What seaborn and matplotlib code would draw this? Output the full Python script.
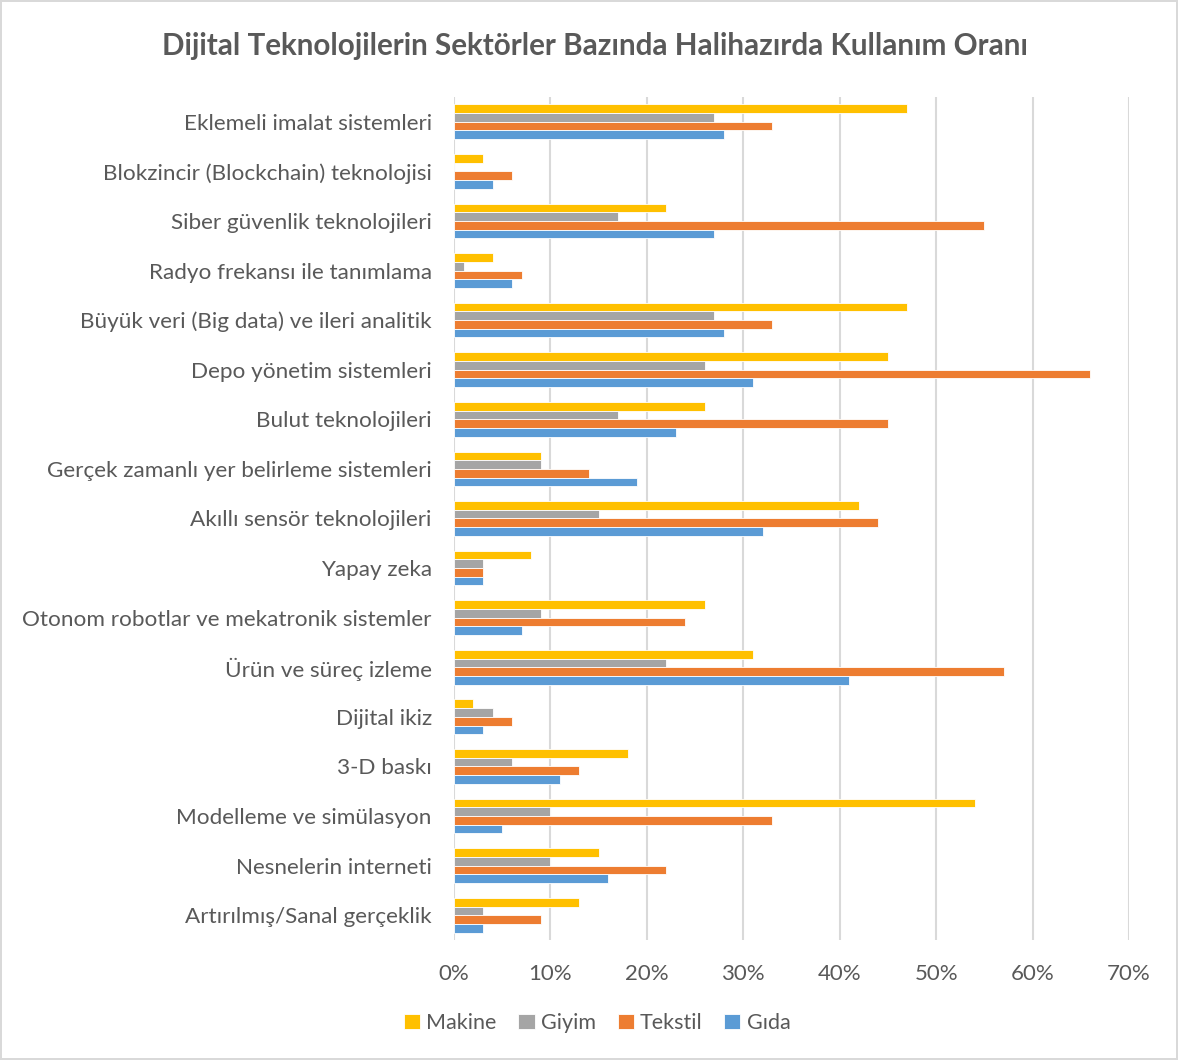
import matplotlib
matplotlib.use("Agg")
import matplotlib.pyplot as plt
import seaborn as sns
import pandas as pd
from matplotlib.ticker import FuncFormatter

categories = [
    "Eklemeli imalat sistemleri",
    "Blokzincir (Blockchain) teknolojisi",
    "Siber güvenlik teknolojileri",
    "Radyo frekansı ile tanımlama",
    "Büyük veri (Big data) ve ileri analitik",
    "Depo yönetim sistemleri",
    "Bulut teknolojileri",
    "Gerçek zamanlı yer belirleme sistemleri",
    "Akıllı sensör teknolojileri",
    "Yapay zeka",
    "Otonom robotlar ve mekatronik sistemler",
    "Ürün ve süreç izleme",
    "Dijital ikiz",
    "3-D baskı",
    "Modelleme ve simülasyon",
    "Nesnelerin interneti",
    "Artırılmış/Sanal gerçeklik",
]

makine = [47, 3, 22, 4, 47, 45, 26, 9, 42, 8, 26, 31, 2, 18, 54, 15, 13]
giyim = [27, 0, 17, 1, 27, 26, 17, 9, 15, 3, 9, 22, 4, 6, 10, 10, 3]
tekstil = [33, 6, 55, 7, 33, 66, 45, 14, 44, 3, 24, 57, 6, 13, 33, 22, 9]
gida = [28, 4, 27, 6, 28, 31, 23, 19, 32, 3, 7, 41, 3, 11, 5, 16, 3]

sectors = ["Makine", "Giyim", "Tekstil", "Gıda"]
colors = ["#FFC000", "#A5A5A5", "#ED7D31", "#5B9BD5"]

# long form table for seaborn
df = pd.concat([
    pd.DataFrame({"Teknoloji": categories, "Sektör": s, "Oran": v})
    for s, v in zip(sectors, [makine, giyim, tekstil, gida])
])

sns.set_style("white")
plt.rcParams["font.family"] = ["Lato", "DejaVu Sans"]
txt = "#595959"

fig = plt.figure(figsize=(11.78, 10.6), dpi=100)
fig.patch.set_edgecolor("#D9D9D9")
fig.patch.set_linewidth(1.5)
ax = fig.add_axes([0.3854, 0.1132, 0.573, 0.7953])

sns.barplot(data=df, y="Teknoloji", x="Oran", hue="Sektör", order=categories,
            hue_order=sectors, palette=colors, orient="h", width=0.7,
            edgecolor="white", linewidth=0.6, saturation=1, ax=ax,
            legend=True)

ax.set_xlim(0, 70)
ax.set_xticks(range(0, 71, 10))
ax.xaxis.set_major_formatter(FuncFormatter(lambda v, p: f"{v:.0f}%"))
ax.grid(axis="x", color="#D9D9D9", linewidth=1.5)
ax.set_axisbelow(True)
for s in ax.spines.values():
    s.set_visible(False)
ax.set_xlabel("")
ax.set_ylabel("")
ax.tick_params(axis="x", labelsize=16, colors=txt, length=0, pad=17)
ax.tick_params(axis="y", labelsize=16.2, colors=txt, length=0, pad=16)

fig.text(0.505, 0.957, "Dijital Teknolojilerin Sektörler Bazında Halihazırda Kullanım Oranı",
         ha="center", va="center", fontsize=21.3, fontweight="bold", color=txt)

handles, labels = ax.get_legend_handles_labels()
ax.get_legend().remove()
fig.legend(handles, labels, loc="center", bbox_to_anchor=(0.507, 0.035), ncol=4,
           frameon=False, fontsize=15.5, labelcolor=txt, handlelength=0.75,
           handleheight=0.75, handletextpad=0.3, columnspacing=1.0)

fig.savefig("out.png", dpi=100)
